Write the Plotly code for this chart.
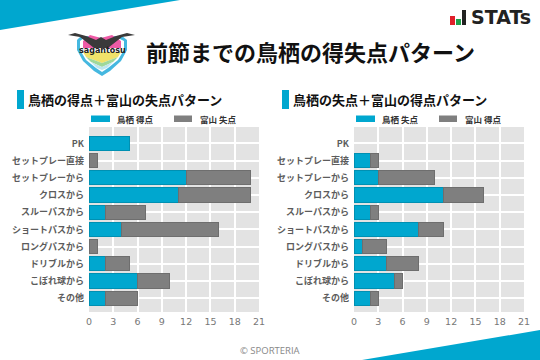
import plotly.graph_objects as go

categories = ["PK", "セットプレー直接", "セットプレーから", "クロスから", "スルーパスから",
              "ショートパスから", "ロングパスから", "ドリブルから", "こぼれ球から", "その他"]
tosu_for = [5, 0, 12, 11, 2, 4, 0, 2, 6, 2]
toyama_against = [0, 1, 8, 9, 5, 12, 1, 3, 4, 4]
tosu_against = [0, 2, 3, 11, 2, 8, 1, 4, 5, 2]
toyama_for = [0, 1, 7, 5, 1, 3, 3, 4, 1, 1]
ticks = [0, 3, 6, 9, 12, 15, 18, 21]
legend_left = ["鳥栖 得点", "富山 失点"]
legend_right = ["鳥栖 失点", "富山 得点"]
BLUE = "#00A7CF"
GRAY = "#7F7F7F"
FONT = "Noto Sans CJK JP"
W, H = 540, 360


def px(x):
    return x / W


def py(y):
    return 1 - y / H


fig = go.Figure()
pairs = [("", tosu_for, toyama_against), ("2", tosu_against, toyama_for)]
for suffix, a, b in pairs:
    for vals, col, edge in ((a, BLUE, "#0090B2"), (b, GRAY, "#6E6E6E")):
        fig.add_trace(go.Bar(y=categories, x=vals, orientation="h", width=0.82,
                             marker=dict(color=col, line=dict(color=edge, width=[1 if v else 0 for v in vals])),
                             xaxis="x" + suffix, yaxis="y" + suffix, showlegend=False))

axis_common = dict(range=[0, 21], tickvals=ticks, showgrid=True, gridcolor="white", gridwidth=1.5,
                   zeroline=False, showline=False, ticks="", ticklabelstandoff=2,
                   tickfont=dict(size=9.5, color="#777777", family="DejaVu Sans"))
yaxis_common = dict(categoryorder="array", categoryarray=categories, autorange=False, range=[9.8, -0.95],
                    showgrid=True, gridcolor="white", gridwidth=1.5, zeroline=False, ticks="", showline=False,
                    ticklabelstandoff=4,
                    tickfont=dict(size=9, color="#5C5C5C", family=FONT, weight=700))
T, B = 127, 312
fig.update_layout(
    width=W, height=H, autosize=False, barmode="stack", bargap=0.18,
    paper_bgcolor="white", plot_bgcolor="#E3E3E3", margin=dict(l=0, r=0, t=0, b=0, pad=0, autoexpand=False),
    xaxis=dict(domain=[px(89), px(259)], anchor="y", **axis_common),
    yaxis=dict(domain=[py(B), py(T)], anchor="x", **yaxis_common),
    xaxis2=dict(domain=[px(354), px(524)], anchor="y2", **axis_common),
    yaxis2=dict(domain=[py(B), py(T)], anchor="x2", **yaxis_common),
)

shapes = []


def rect(x0, y0, x1, y1, col):
    shapes.append(dict(type="rect", xref="paper", yref="paper", x0=px(x0), x1=px(x1), y0=py(y0), y1=py(y1),
                       fillcolor=col, line=dict(width=0), layer="above"))


def poly(points, col):
    path = "M " + " L ".join(f"{px(x)} {py(y)}" for x, y in points) + " Z"
    shapes.append(dict(type="path", xref="paper", yref="paper", path=path, fillcolor=col,
                       line=dict(width=0), layer="above"))


# corner banners
poly([(0, 0), (180, 0), (0, 30)], BLUE)
poly([(362, 360), (540, 330), (540, 360)], BLUE)
# section markers
rect(17, 90, 24, 109, BLUE)
rect(282, 90, 289, 109, BLUE)
# legends
rect(91, 115.5, 110, 122, BLUE)
rect(174, 115.5, 192, 122, GRAY)
rect(356, 115.5, 375, 122, BLUE)
rect(439, 115.5, 457, 122, GRAY)
# STATs icon
rect(450, 16, 455, 25, "#E0202A")
rect(456, 19, 461, 25, "#1FA04A")
rect(462, 10, 466, 25, "#222222")
# crest: blue shield, white ring, pink heart, stripes, wings and bird
poly([(77, 40), (81, 36), (88, 36), (101, 38), (114, 36), (122, 36), (127, 40), (127, 50), (121, 61), (110, 71),
      (102, 76), (94, 71), (83, 61), (77, 50)], "#45B8E0")
poly([(80, 41), (84, 38), (101, 40), (118, 38), (124, 41), (124, 50), (118, 60), (108, 68), (102, 72), (96, 68),
      (86, 60), (80, 50)], "#FFFFFF")
poly([(83, 41), (90, 35), (101, 38), (112, 35), (121, 41), (121, 48), (83, 48)], "#EE5BA6")
poly([(83, 52), (121, 52), (118, 57), (102, 63), (86, 57)], "#F0E26A")
poly([(86, 57), (102, 63), (118, 57), (113, 62), (102, 67), (91, 62)], "#9FD89A")
poly([(91, 62), (102, 67), (113, 62), (107, 68), (102, 70), (97, 68)], "#BFE6EE")
poly([(68, 35), (75, 33), (86, 36), (96, 40), (101, 37), (106, 40), (116, 36), (127, 33), (135, 35), (122, 37),
      (113, 44), (108, 48), (94, 48), (89, 44), (80, 37)], "#3A3A3A")
fig.update_layout(shapes=shapes)

ann = []


def text(x, y, s, size, color="#111111", anchor="left", weight=400, family=FONT):
    ann.append(dict(xref="paper", yref="paper", x=px(x), y=py(y), text=s, showarrow=False, xanchor=anchor,
                    yanchor="middle", font=dict(size=size, color=color, family=family, weight=weight)))


text(144, 51, "前節までの鳥栖の得失点パターン", 22, weight=700)
text(26, 99, "鳥栖の得点＋富山の失点パターン", 13, weight=700)
text(291, 99, "鳥栖の失点＋富山の得点パターン", 13, weight=700)
text(115, 119, legend_left[0], 8.5, "#333333", weight=700)
text(198, 119, legend_left[1], 8.5, "#333333", weight=700)
text(380, 119, legend_right[0], 8.5, "#333333", weight=700)
text(463, 119, legend_right[1], 8.5, "#333333", weight=700)
text(270, 350, "© SPORTERIA", 9.5, "#888888", "center", family="Open Sans")
text(469, 17, "STATs", 19, "#222222", weight=700, family="DejaVu Sans")
text(102, 50.5, "sagantosu", 8, "#222222", "center", weight=700, family="DejaVu Sans")
fig.update_layout(annotations=ann)

fig.write_html("out.html", config={"displayModeBar": False, "responsive": False},
               default_width="540px", default_height="360px",
               post_script="document.documentElement.style.overflow='hidden';document.body.style.margin='0';")
